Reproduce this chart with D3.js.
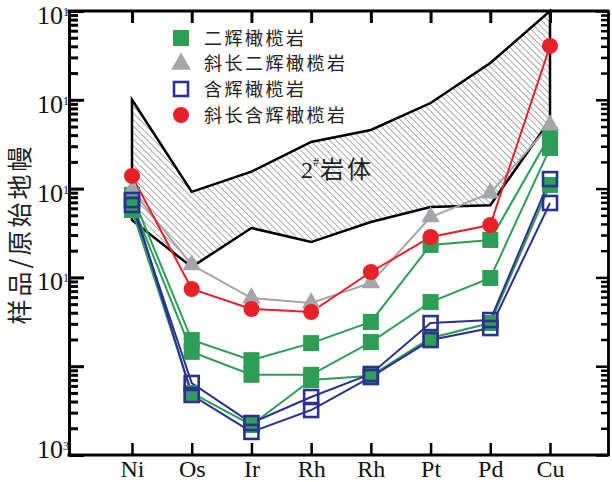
<!DOCTYPE html>
<html><head><meta charset="utf-8">
<script src="https://cdn.jsdelivr.net/npm/d3@7"></script>
<style>html,body{margin:0;padding:0;background:#fff;}svg{display:block;}</style>
</head><body>
<script>
const categories = ["Ni","Os","Ir","Rh","Rh","Pt","Pd","Cu"];
const yDecades = [10, 1, 0.1, 0.01, 0.001, 0.0001];
const yTickLabels = [
  {v:10, base:"10", sup:"1"},
  {v:1, base:"10", sup:"1"},
  {v:0.1, base:"10", sup:"1"},
  {v:0.01, base:"10", sup:"1"},
  {v:0.0001, base:"10", sup:"3"}
];
const legendNames = ["二辉橄榄岩","斜长二辉橄榄岩","含辉橄榄岩","斜长含辉橄榄岩"];
const envelopeUpper = [1.0, 0.092, 0.155, 0.335, 0.457, 0.92, 2.6, 10];
const envelopeLower = [0.044, 0.0131, 0.036, 0.025, 0.042, 0.062, 0.065, 0.59];
const green1 = [0.085, 0.00197, 0.00117, 0.00182, 0.00315, 0.0232, 0.0264, 0.40];
const green2 = [0.069, 0.00145, 0.0008, 0.0008, 0.00187, 0.00528, 0.00985, 0.286];
const green3 = [0.0574, 0.0005, 0.000218, 0.0007, 0.00078, 0.00208, 0.00306, 0.110];
const gray1  = [0.0964, 0.0138, 0.00586, 0.00515, 0.00865, 0.0479, 0.089, 0.52];
const blue1  = [0.0654, 0.000647, 0.000229, 0.00045, 0.000817, 0.00306, 0.00331, 0.128];
const blue2  = [0.0744, 0.000474, 0.000182, 0.000321, 0.000755, 0.00197, 0.00269, 0.0689];
const red1   = [0.139, 0.0074, 0.00441, 0.00407, 0.0115, 0.0285, 0.0389, 4.04];
const bodyLabel = {num:"2", sup:"#", text:"岩体", v:0.13, pos:2.85};

const W=612, H=482;
const L=69, R=608, T=11, B=455;
const GREEN="#2e9d55", GRAY="#a4a6a9", BLUE="#2b3190", RED="#e8202a";
const serif="'Liberation Serif','Times New Roman',serif";
const cjk="'Noto Sans CJK SC','Noto Sans',sans-serif";

const svg=d3.select("body").append("svg").attr("width",W).attr("height",H);
const x=d3.scalePoint().domain(d3.range(categories.length)).range([132,550]);
const y=d3.scaleLog().domain([1e-4,10]).range([B,T]);

const defs=svg.append("defs");
const pat=defs.append("pattern").attr("id","hatch").attr("patternUnits","userSpaceOnUse")
  .attr("width",4.6).attr("height",4.6).attr("patternTransform","rotate(-45)");
pat.append("line").attr("x1",0).attr("y1",0).attr("x2",0).attr("y2",4.6)
  .attr("stroke","#555").attr("stroke-width",1);

// envelope
const env = envelopeUpper.map((v,i)=>[x(i),y(v)]).concat(envelopeLower.map((v,i)=>[x(i),y(v)]).reverse());
svg.append("path").attr("d","M"+env.join("L")+"Z")
  .attr("fill","url(#hatch)").attr("stroke","#000").attr("stroke-width",2.5).attr("stroke-linejoin","miter");

const bl=svg.append("text").attr("x",301).attr("y",y(bodyLabel.v)).attr("font-family",serif).attr("font-size",24).attr("fill","#222");
bl.append("tspan").text(bodyLabel.num);
bl.append("tspan").attr("font-size",12).attr("dy",-12).text(bodyLabel.sup);
bl.append("tspan").attr("font-family",cjk).attr("font-size",24).attr("dy",12).attr("dx",1).attr("letter-spacing",3).text(bodyLabel.text);

// axes
const minor=[];
[1e-4,1e-3,1e-2,1e-1,1].forEach(d=>{for(let k=2;k<=9;k++)minor.push(d*k);});
function styleAx(g,w){g.selectAll("path.domain").attr("stroke","#000").attr("stroke-width",w);
  g.selectAll(".tick line").attr("stroke","#000").attr("stroke-width",w);
  g.selectAll(".tick text").remove();}
svg.append("g").attr("transform",`translate(${L},0)`).call(d3.axisLeft(y).tickValues(minor).tickSizeInner(-9).tickSizeOuter(0).tickFormat("")).call(g=>styleAx(g,3));
svg.append("g").attr("transform",`translate(${L},0)`).call(d3.axisLeft(y).tickValues(yDecades).tickSizeInner(-15).tickSizeOuter(0).tickFormat("")).call(g=>styleAx(g,3));
svg.append("g").attr("transform",`translate(${R},0)`).call(d3.axisRight(y).tickValues(minor).tickSizeInner(-7).tickSizeOuter(0).tickFormat("")).call(g=>styleAx(g,2.5));
svg.append("g").attr("transform",`translate(${R},0)`).call(d3.axisRight(y).tickValues(yDecades).tickSizeInner(-12).tickSizeOuter(0).tickFormat("")).call(g=>styleAx(g,2.5));
const xTop=d3.scalePoint().domain(d3.range(categories.length)).range([132,550]);
svg.append("g").attr("transform",`translate(0,${T})`).call(d3.axisTop(x).tickSizeInner(-12).tickSizeOuter(0).tickFormat("")).call(g=>{styleAx(g,3);g.select("path.domain").attr("d",`M${L-1.5},0H${R+1.5}`);});
const xb=svg.append("g").attr("transform",`translate(0,${B})`).call(d3.axisBottom(x).tickSizeInner(-12).tickSizeOuter(0).tickPadding(5).tickFormat(i=>categories[i]));
xb.select("path.domain").attr("stroke","#000").attr("stroke-width",3).attr("d",`M${L-1.5},0H${R+1.5}`);
xb.selectAll(".tick line").attr("stroke","#000").attr("stroke-width",2.5);
xb.selectAll(".tick text").attr("font-family",serif).attr("font-size",24).attr("fill","#111");

// y tick labels
yTickLabels.forEach((t,i)=>{
  const last = i===yTickLabels.length-1;
  const tx=svg.append("text").attr("x",63).attr("y",y(t.v)+(last?3:13)).attr("text-anchor","end")
    .attr("font-family",serif).attr("font-size",26).attr("fill","#111");
  tx.append("tspan").text(t.base);
  svg.append("text").attr("x",63).attr("y",y(t.v)+(last?-5:5)).attr("font-family",serif).attr("font-size",12).attr("fill","#111").text(t.sup);
});

// y title
svg.append("text").attr("transform","translate(29,234) rotate(-90)").attr("text-anchor","middle")
  .attr("font-family",cjk).attr("font-size",25).attr("letter-spacing",3).attr("fill","#222").text("样品/原始地幔");

// series
const line=d3.line().x((d,i)=>x(i)).y(d=>y(d));
function drawLine(data,color){svg.append("path").attr("d",line(data)).attr("fill","none").attr("stroke",color).attr("stroke-width",2);}
[green1,green2,green3].forEach(s=>drawLine(s,GREEN));
drawLine(gray1,GRAY);
[blue1,blue2].forEach(s=>drawLine(s,BLUE));
drawLine(red1,RED);

function gSquares(data){svg.append("g").selectAll("rect").data(data).join("rect")
  .attr("x",(d,i)=>x(i)-8).attr("y",d=>y(d)-8).attr("width",16).attr("height",16).attr("fill",GREEN);}
[green1,green2,green3].forEach(gSquares);
const tri=d3.symbol().type(d3.symbolTriangle).size(150);
svg.append("g").selectAll("path").data(gray1).join("path").attr("d",tri)
  .attr("transform",(d,i)=>`translate(${x(i)},${y(d)})`).attr("fill",GRAY);
[blue1,blue2].forEach(s=>svg.append("g").selectAll("rect").data(s).join("rect")
  .attr("x",(d,i)=>x(i)-7).attr("y",d=>y(d)-7).attr("width",14).attr("height",14)
  .attr("fill","none").attr("stroke",BLUE).attr("stroke-width",2.6));
svg.append("g").selectAll("circle").data(red1).join("circle").attr("cx",(d,i)=>x(i)).attr("cy",d=>y(d)).attr("r",8).attr("fill",RED);

// legend
const lg=svg.append("g");
const rows=[38,63,89,115];
lg.append("rect").attr("x",173).attr("y",rows[0]-8).attr("width",16).attr("height",16).attr("fill",GREEN);
lg.append("path").attr("d",d3.symbol().type(d3.symbolTriangle).size(170)).attr("transform",`translate(181,${rows[1]+1})`).attr("fill",GRAY);
lg.append("rect").attr("x",174).attr("y",rows[2]-7).attr("width",14).attr("height",14).attr("fill","none").attr("stroke",BLUE).attr("stroke-width",2.6);
lg.append("circle").attr("cx",181).attr("cy",rows[3]).attr("r",8).attr("fill",RED);
legendNames.forEach((n,i)=>lg.append("text").attr("x",204).attr("y",rows[i]+7).attr("font-family",cjk)
  .attr("font-size",18).attr("letter-spacing",2.5).attr("fill","#222").text(n));
</script>
</body></html>
